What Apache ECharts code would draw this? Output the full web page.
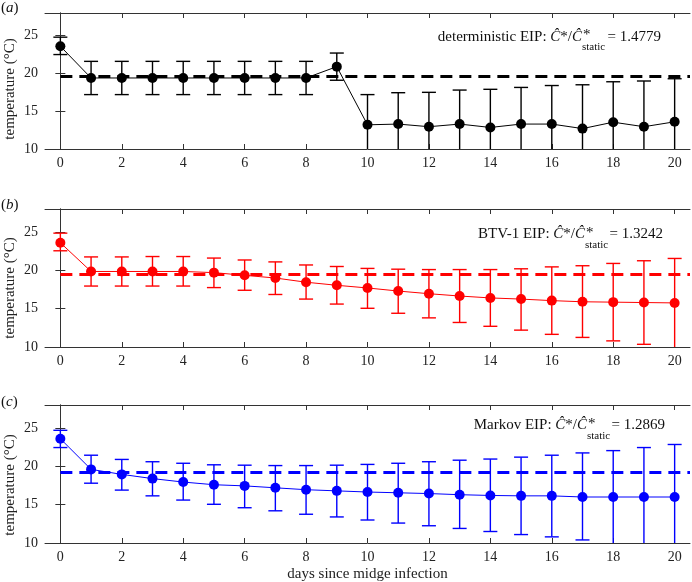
<!DOCTYPE html>
<html><head><meta charset="utf-8">
<script src="https://cdn.jsdelivr.net/npm/echarts@6/dist/echarts.min.js"></script>
<style>html,body{margin:0;padding:0;background:#fff}#c{width:692px;height:582px}</style>
</head><body><div id="c"></div>
<script>
const days = [0,1,2,3,4,5,6,7,8,9,10,11,12,13,14,15,16,17,18,19,20];
const xTicks = [0,2,4,6,8,10,12,14,16,18,20];
const yTicks = [10,15,20,25];

const detMean  = [23.6,19.4,19.4,19.4,19.4,19.4,19.4,19.4,19.4,20.9,13.2,13.3,12.95,13.3,12.85,13.3,13.3,12.7,13.55,12.95,13.6];
const detUpper = [24.8,21.6,21.6,21.6,21.6,21.6,21.6,21.6,21.6,22.7,17.2,17.45,17.5,17.8,17.9,18.15,18.4,18.5,18.9,19.0,19.3];
const detLower = [22.5,17.2,17.2,17.2,17.2,17.2,17.2,17.2,17.2,19.1,9.2,9.15,8.4,8.8,7.8,8.45,8.2,6.9,8.2,6.9,7.9];
const detStatic = 19.6;

const btvMean  = [23.6,19.85,19.85,19.85,19.85,19.7,19.35,19.0,18.45,18.05,17.7,17.3,16.95,16.65,16.4,16.25,16.05,15.9,15.85,15.8,15.75];
const btvUpper = [24.85,21.75,21.75,21.8,21.8,21.6,21.35,21.1,20.7,20.5,20.25,20.15,20.1,20.1,20.1,20.2,20.45,20.6,20.9,21.25,21.55];
const btvLower = [22.55,17.95,17.95,17.95,17.95,17.75,17.4,16.85,16.25,15.6,15.05,14.4,13.8,13.2,12.7,12.2,11.65,11.25,10.8,10.35,9.95];
const btvStatic = 19.45;

const mkvMean  = [23.6,19.6,18.95,18.4,17.95,17.6,17.45,17.2,16.95,16.8,16.65,16.55,16.45,16.3,16.2,16.15,16.15,16.0,16.0,16.0,16.0];
const mkvUpper = [24.7,21.45,20.9,20.6,20.4,20.2,20.15,20.1,20.1,20.15,20.25,20.4,20.6,20.8,20.95,21.2,21.45,21.75,22.05,22.45,22.85];
const mkvLower = [22.45,17.8,16.9,16.15,15.6,15.05,14.6,14.2,13.75,13.4,13.0,12.6,12.25,11.9,11.5,11.1,10.8,10.4,9.9,9.5,9.1];
const mkvStatic = 19.2;

const panels = [
  {mean: detMean, up: detUpper, lo: detLower, stat: detStatic, color: '#000000', label: 'a', name: 'deterministic EIP: ', ratio: '= 1.4779'},
  {mean: btvMean, up: btvUpper, lo: btvLower, stat: btvStatic, color: '#ff0000', label: 'b', name: 'BTV-1 EIP: ', ratio: '= 1.3242'},
  {mean: mkvMean, up: mkvUpper, lo: mkvLower, stat: mkvStatic, color: '#0000ff', label: 'c', name: 'Markov EIP: ', ratio: '= 1.2869'}
];

const FONT = 'Liberation Serif';
const frame = '#333';
const grids = [{top: 13, h: 136}, {top: 209, h: 138}, {top: 405, h: 138}];

const option = {animation: false, grid: [], xAxis: [], yAxis: [], series: [], graphic: []};

function errRender(color) {
  return function (params, api) {
    const x = api.value(0), lo = api.value(1), hi = api.value(2);
    const cs = params.coordSys;
    const bottom = cs.y + cs.height;
    const pHi = api.coord([x, hi]);
    const pLo = api.coord([x, lo]);
    const w = 7;
    const st = {stroke: color, lineWidth: 1.4};
    const children = [];
    const loClipped = pLo[1] > bottom;
    const yLo = loClipped ? bottom : pLo[1];
    children.push({type: 'line', shape: {x1: pHi[0], y1: pHi[1], x2: pHi[0], y2: yLo}, style: st});
    children.push({type: 'line', shape: {x1: pHi[0] - w, y1: pHi[1], x2: pHi[0] + w, y2: pHi[1]}, style: st});
    if (!loClipped) children.push({type: 'line', shape: {x1: pLo[0] - w, y1: pLo[1], x2: pLo[0] + w, y2: pLo[1]}, style: st});
    return {type: 'group', children};
  };
}

panels.forEach((p, i) => {
  const g = grids[i];
  option.grid.push({left: 45, right: 2, top: g.top, height: g.h, containLabel: false, outerBoundsMode: 'none'});
  const isLast = i === 2;
  const xBase = {
    type: 'value', min: -0.5, max: 20.5, gridIndex: i,
    axisLine: {show: true, lineStyle: {color: frame, width: 1}},
    axisTick: {show: true, inside: true, length: 5, customValues: xTicks, lineStyle: {color: frame}},
    splitLine: {show: false}
  };
  option.xAxis.push(Object.assign({}, xBase, {
    position: 'bottom',
    axisLabel: {show: true, customValues: xTicks, fontFamily: FONT, fontSize: 14, color: '#222', margin: 7},
    name: isLast ? 'days since midge infection' : '', nameLocation: 'middle', nameGap: 24,
    nameTextStyle: {fontFamily: FONT, fontSize: 15, color: '#222'}
  }));
  option.xAxis.push(Object.assign({}, xBase, {position: 'top', axisLabel: {show: false}}));
  const yBase = {
    type: 'value', min: 10, max: 28, gridIndex: i,
    axisLine: {show: true, lineStyle: {color: frame, width: 1}},
    axisTick: {show: true, inside: true, length: 5, customValues: yTicks, lineStyle: {color: frame}},
    splitLine: {show: false}
  };
  option.yAxis.push(Object.assign({}, yBase, {
    position: 'left',
    axisLabel: {show: true, customValues: yTicks, fontFamily: FONT, fontSize: 14, color: '#222', margin: 7}
  }));
  option.yAxis.push(Object.assign({}, yBase, {position: 'right', axisLabel: {show: false}}));

  const xi = i * 2, yi = i * 2;
  option.series.push({
    type: 'line', xAxisIndex: xi, yAxisIndex: yi, silent: true,
    data: [[0, p.stat], [20.5, p.stat]], symbol: 'none',
    lineStyle: {color: p.color, width: 3, type: [12, 7]}, z: 1
  });
  option.series.push({
    type: 'custom', xAxisIndex: xi, yAxisIndex: yi, silent: true,
    renderItem: errRender(p.color),
    encode: {x: 0, y: [1, 2]},
    data: days.map((d, k) => [d, p.lo[k], p.up[k]]), z: 2
  });
  option.series.push({
    type: 'line', xAxisIndex: xi, yAxisIndex: yi, silent: true,
    data: days.map((d, k) => [d, p.mean[k]]),
    symbol: 'circle', symbolSize: 10, showSymbol: true,
    itemStyle: {color: p.color}, lineStyle: {color: p.color, width: 1}, z: 3
  });
});

// annotations
const ann = [
  {x0: 582, y: 37, eq: 607.5},
  {x0: 585, y: 234.5, eq: 609.5},
  {x0: 587, y: 425.5, eq: 611.5}
];
const labY = [8, 205, 402];
const yNameY = [89, 288, 485];
panels.forEach((p, i) => {
  const a = ann[i];
  const txt = {fontFamily: FONT, fontSize: 15, fill: '#111'};
  option.graphic.push({type: 'text', silent: true, style: Object.assign({}, txt, {
    text: p.name + '{i|Ĉ}*/{i|Ĉ}', x: a.x0, y: a.y, align: 'right', verticalAlign: 'middle',
    rich: {i: {fontFamily: FONT, fontSize: 15, fontStyle: 'italic', fill: '#111'}}
  })});
  option.graphic.push({type: 'text', silent: true, style: Object.assign({}, txt, {
    text: '*', x: a.x0 + 1, y: a.y - 1.5, align: 'left', verticalAlign: 'middle'
  })});
  option.graphic.push({type: 'text', silent: true, style: Object.assign({}, txt, {
    text: 'static', fontSize: 11, x: a.x0, y: a.y + 10.5, align: 'left', verticalAlign: 'middle'
  })});
  option.graphic.push({type: 'text', silent: true, style: Object.assign({}, txt, {
    text: p.ratio, x: a.eq, y: a.y, align: 'left', verticalAlign: 'middle'
  })});
  option.graphic.push({type: 'text', silent: true, style: Object.assign({}, txt, {
    text: '({i|' + p.label + '})', x: 1, y: labY[i], align: 'left', verticalAlign: 'middle', fontSize: 15,
    rich: {i: {fontFamily: FONT, fontSize: 15, fontStyle: 'italic', fill: '#111'}}
  })});
  option.graphic.push({type: 'text', silent: true, x: 10.5, y: yNameY[i], rotation: Math.PI / 2,
    style: Object.assign({}, txt, {text: 'temperature (°C)', x: 0, y: 0, align: 'center', verticalAlign: 'middle', fill: '#222'})
  });
});

const chart = echarts.init(document.getElementById('c'), null, {renderer: 'canvas'});
chart.setOption(option);
</script></body></html>
